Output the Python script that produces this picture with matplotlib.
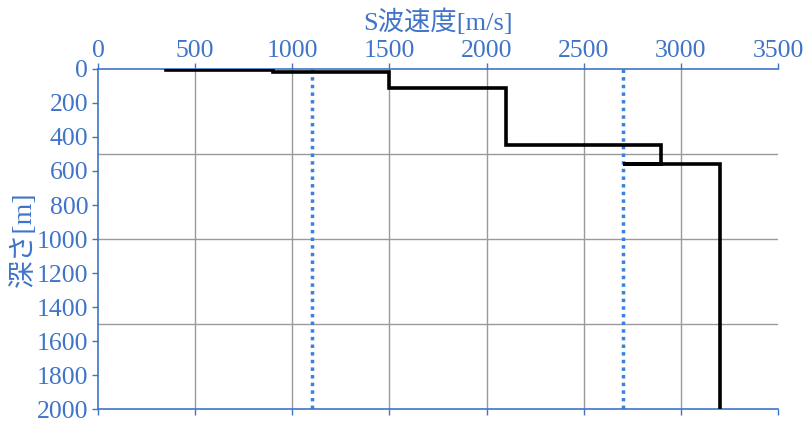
import numpy as np
import matplotlib.pyplot as plt

plt.rcParams['font.family'] = ['Liberation Serif', 'Noto Sans CJK JP']

# S波速度プロファイル (階段状)
vs = [350, 900, 900, 1500, 1500, 2100, 2100, 2900, 2900, 2700, 3200, 3200]
depth = [5, 5, 20, 20, 110, 110, 450, 450, 560, 560, 560, 2000]

# 参考線 (点線)
ref_vs = [1100, 2700]

x_ticks = [0, 500, 1000, 1500, 2000, 2500, 3000, 3500]
y_ticks = [0, 200, 400, 600, 800, 1000, 1200, 1400, 1600, 1800, 2000]
y_grid = [500, 1000, 1500]

azul = '#3f74c9'

fig = plt.figure(figsize=(8.1, 4.26), dpi=100)
ax = fig.add_axes([0.121, 0.039, 0.8395, 0.7995])

for g in x_ticks[1:-1]:
    ax.axvline(g, color='#9a9a9a', lw=1.0, zorder=1)
for g in y_grid:
    ax.axhline(g, color='#9a9a9a', lw=1.0, zorder=1)

for r in ref_vs:
    ax.plot([r, r], [0, 2000], color='#3a80e0', lw=2.5, linestyle=(0, (1, 1.2)), zorder=2)

ax.plot(vs, depth, color='black', lw=2.6, zorder=3, solid_joinstyle='miter')

ax.set_xlim(0, 3500)
ax.set_ylim(2000, 0)
ax.xaxis.tick_top()
ax.xaxis.set_label_position('top')
ax.set_xticks(x_ticks)
ax.set_yticks(y_ticks)
ax.tick_params(axis='x', colors=azul, labelsize=18.5, length=4, width=1, direction='out', pad=1,
               top=True, bottom=True, labelbottom=False)
ax.tick_params(axis='y', colors=azul, labelsize=18.5, length=4, width=1, direction='out', pad=3)

ax.set_xlabel('S波速度[m/s]', color=azul, fontsize=19, labelpad=7)
ax.set_ylabel('深さ[m]', color=azul, fontsize=20, labelpad=0)

for s in ['top', 'left', 'bottom']:
    ax.spines[s].set_color(azul)
    ax.spines[s].set_linewidth(1.2)
ax.spines['right'].set_visible(False)

fig.savefig('out.png', dpi=100)
